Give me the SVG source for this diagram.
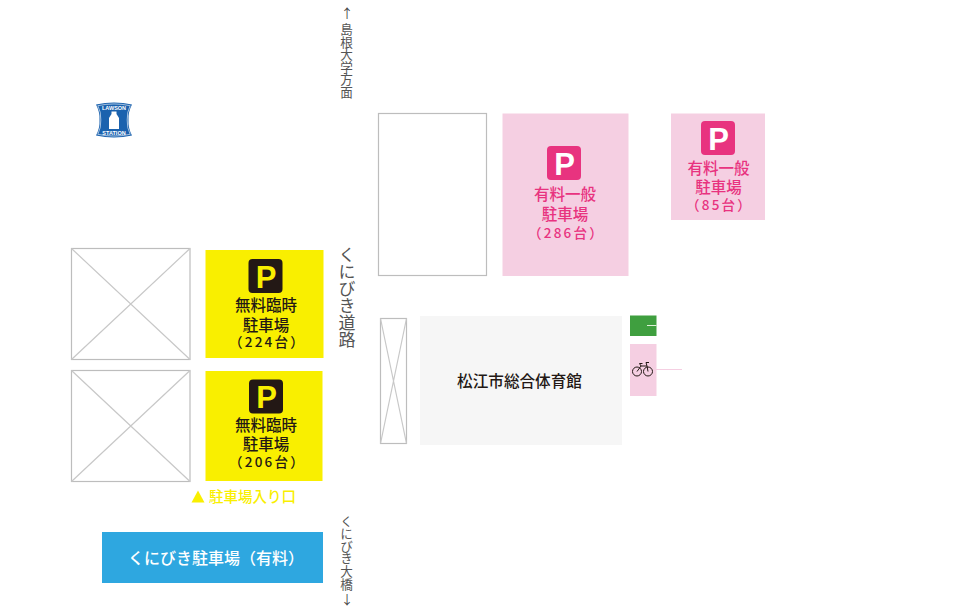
<svg xmlns="http://www.w3.org/2000/svg" width="971" height="611" viewBox="0 0 971 611">
<style>
text{font-family:"Noto Sans CJK JP","Noto Sans",sans-serif}
.c{text-anchor:middle}
.b{fill:#fff;stroke:#bdbdbd;stroke-width:1.200}
.x{fill:none;stroke:#c8c8c8;stroke-width:1.200}
.y{fill:#f9ef00}
.k{fill:#231815;font-size:15.500px;font-weight:500}
.pk{fill:#f5cfe2}
.m{fill:#e8337f;font-size:15.500px;font-weight:500}
.pt{font-family:"Liberation Sans",sans-serif;font-weight:700;font-size:31px;text-anchor:middle}
.v{writing-mode:vertical-rl;fill:#555;font-size:12.600px}
.ar{fill:#444;font-size:12.600px;text-anchor:middle}
.n{font-size:13.500px;letter-spacing:2.200px}
.lg{font-family:"Liberation Sans",sans-serif;font-weight:700;font-size:5.500px;text-anchor:middle;fill:#fff}
</style>
<rect width="971" height="611" fill="#fff"/>
<g id="connectors">
<path d="M656 325.500H647" stroke="#cfe6c8" stroke-width="1" fill="none"/>
<path d="M656 369.500H682" stroke="#f5cfe2" stroke-width="1" fill="none"/>
</g>
<g id="lawson">
<path d="M96 104.500Q114 100.500 132 104.500Q128 112 128.500 120Q128 128 132 135.500Q114 139.500 96 135.500Q100 128 99.500 120Q100 112 96 104.500Z" fill="#1b62ae"/>
<path d="M97.800 105.700Q114 102.200 130.200 105.700Q126.800 112 127.200 120Q126.800 128 130.200 134.300Q114 137.800 97.800 134.300Q101.200 128 100.800 120Q101.200 112 97.800 105.700Z" fill="none" stroke="#fff" stroke-width="0.600"/>
<path d="M111.500 111.500H116.500V114L119 118V129H109V118L111.500 114Z" fill="#fff"/>
<text x="114" y="110" class="lg">LAWSON</text>
<text x="114" y="135" class="lg">STATION</text>
</g>
<g id="road-north">
<text x="347" y="18" class="ar">↑</text>
<text x="346.500" y="23" class="v">島根大学方面</text>
</g>
<g id="road-main">
<text x="347" y="246" class="v" style="font-size:17px">くにびき道路</text>
</g>
<g id="road-south">
<text x="346.500" y="514.500" class="v">くにびき大橋</text>
<text x="347" y="604" class="ar">↓</text>
</g>
<g id="building-a">
<rect x="71.500" y="248.500" width="118.500" height="111" class="b"/>
<path d="M71.500 248.500L190 359.500M190 248.500L71.500 359.500" class="x"/>
</g>
<g id="building-b">
<rect x="71.500" y="370.500" width="118.500" height="111" class="b"/>
<path d="M71.500 370.500L190 481.500M190 370.500L71.500 481.500" class="x"/>
</g>
<g id="building-c">
<rect x="378.500" y="113.500" width="108" height="162" class="b"/>
</g>
<g id="building-d">
<rect x="380.500" y="318.500" width="26" height="125" class="b"/>
<path d="M380.500 318.500L406.500 443.500M406.500 318.500L380.500 443.500" class="x"/>
</g>
<g id="parking-224">
<rect x="205.500" y="250" width="118" height="108" class="y"/>
<rect x="248.500" y="259" width="34" height="34" rx="4" fill="#231815"/>
<text x="266" y="287.500" class="pt" fill="#f9ef00">P</text>
<text x="266" y="311" class="c k">無料臨時</text>
<text x="266" y="330.500" class="c k">駐車場</text>
<text x="267.500" y="347" class="c k n">（224台）</text>
</g>
<g id="parking-206">
<rect x="205.500" y="371" width="117" height="110" class="y"/>
<rect x="249" y="379.500" width="34" height="34" rx="4" fill="#231815"/>
<text x="266.500" y="408" class="pt" fill="#f9ef00">P</text>
<text x="266" y="431" class="c k">無料臨時</text>
<text x="266" y="450" class="c k">駐車場</text>
<text x="267.500" y="467" class="c k n">（206台）</text>
</g>
<g id="entrance">
<path d="M191.500 502.500L198 490.500L204.500 502.500Z" fill="#f9ef00"/>
<text x="209" y="502" style="font-size:14.500px;font-weight:500" class="y">駐車場入り口</text>
</g>
<g id="kunibiki-parking">
<rect x="102" y="532" width="221" height="51" fill="#2ea7e0"/>
<text x="216" y="563.500" class="c" fill="#fff" style="font-size:16px;font-weight:500">くにびき駐車場（有料）</text>
</g>
<g id="parking-286">
<rect x="502.500" y="113.500" width="126" height="162.500" class="pk"/>
<rect x="547" y="146" width="34" height="34" rx="4" fill="#e8337f"/>
<text x="564.500" y="174.500" class="pt" fill="#fff">P</text>
<text x="565" y="200" class="c m">有料一般</text>
<text x="565" y="220" class="c m">駐車場</text>
<text x="566.500" y="238" class="c m n">（286台）</text>
</g>
<g id="parking-85">
<rect x="671" y="113.500" width="94" height="106.500" class="pk"/>
<rect x="701" y="121" width="34" height="34" rx="4" fill="#e8337f"/>
<text x="718.500" y="149.500" class="pt" fill="#fff">P</text>
<text x="718.500" y="174" class="c m">有料一般</text>
<text x="718.500" y="193" class="c m">駐車場</text>
<text x="719.500" y="210" class="c m n">（85台）</text>
</g>
<g id="gym">
<rect x="420" y="316" width="202" height="129" fill="#f6f6f6"/>
<text x="519.500" y="387" class="c" fill="#231815" style="font-size:15.600px;font-weight:500">松江市総合体育館</text>
</g>
<g id="green-box">
<rect x="630" y="315.500" width="26.500" height="20.500" fill="#3f9f3f"/>
<path d="M647 325.500H656.500" stroke="#dff0d8" stroke-width="1"/>
</g>
<g id="bicycle">
<rect x="630" y="344" width="26.500" height="52" class="pk"/>
<g fill="none" stroke="#231815" stroke-width="1">
<circle cx="637" cy="371.500" r="4.500"/>
<circle cx="648" cy="371.500" r="4.500"/>
<path d="M637 371.500L641 366H647L648 371.500M641 366L639.500 363.500H642.500M647 366L646 362.500H649"/>
</g>
</g>
</svg>
